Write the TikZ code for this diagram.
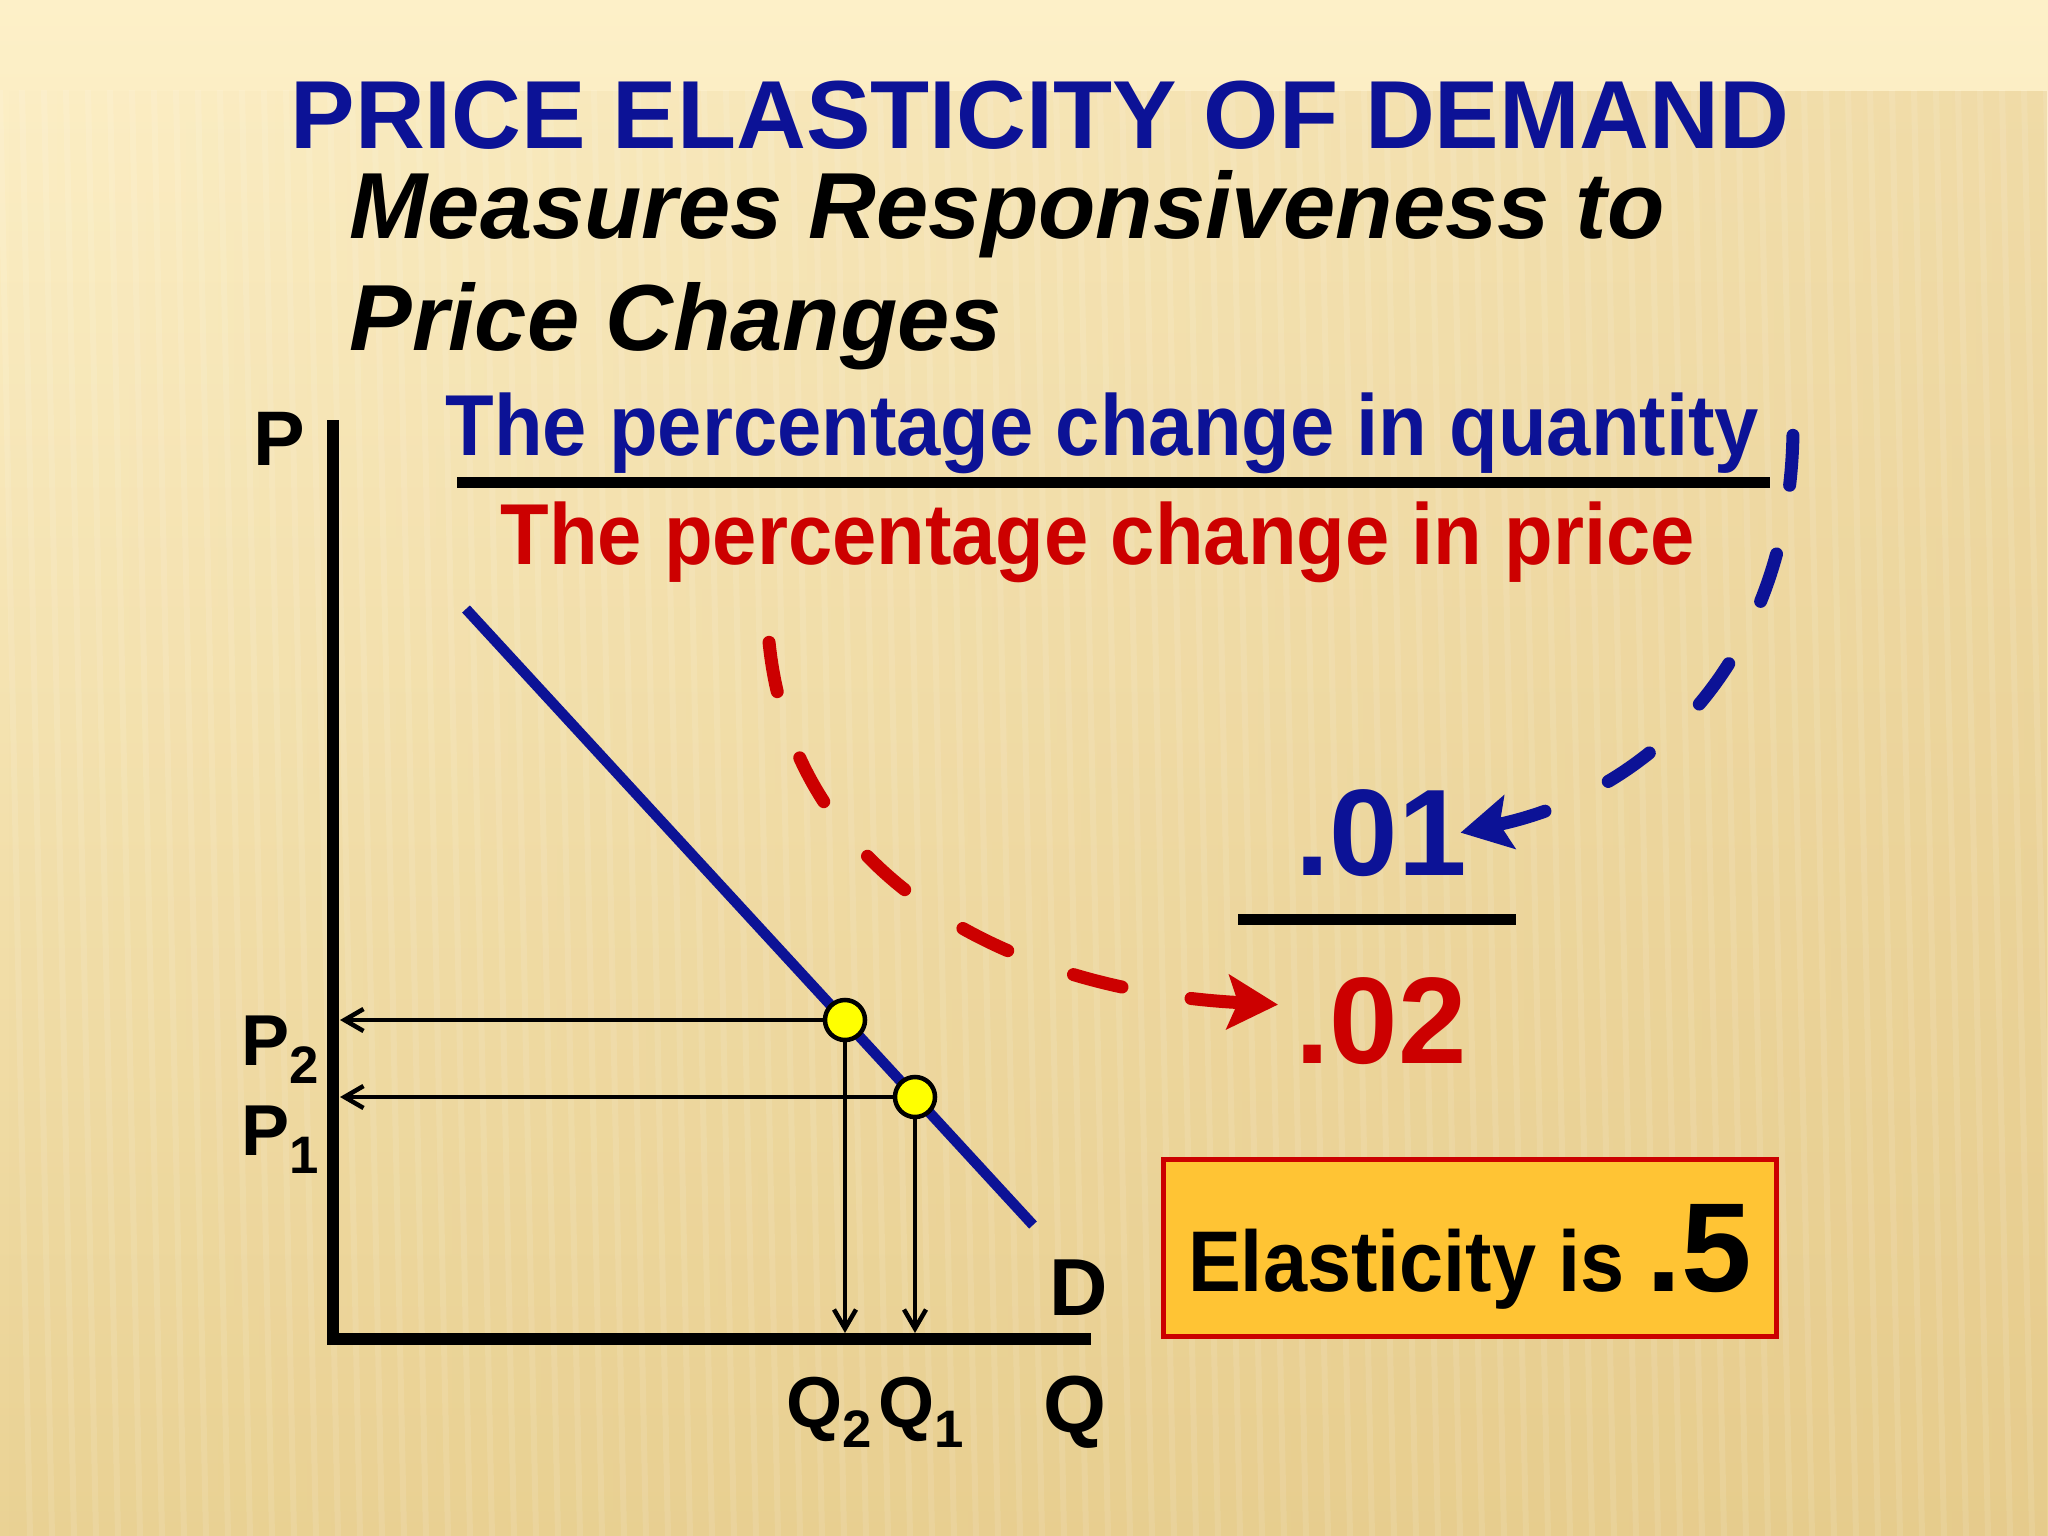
\documentclass[tikz,border=0pt]{standalone}
\usepackage{fontspec}
\setmainfont{Liberation Sans}
\newfontfamily\narrowsans[FakeStretch=0.92]{Liberation Sans}
\usetikzlibrary{arrows.meta,calc,fadings}
\definecolor{elBlue}{RGB}{12,18,150}
\definecolor{elRed}{RGB}{204,0,0}
\definecolor{elBox}{RGB}{255,196,52}
\definecolor{elDot}{RGB}{255,255,0}
\definecolor{bgCream}{RGB}{253,240,200}
\definecolor{bgMid}{RGB}{246,228,178}
\definecolor{bgSand}{RGB}{234,210,148}
\definecolor{bgTan}{RGB}{226,196,130}
\newcommand{\setsz}[1]{\fontsize{#1}{#1}\selectfont}

\begin{document}
\begin{tikzpicture}[x=0.01cm,y=-0.01cm,
    lbl/.style={anchor=base west,inner sep=0pt,font=\bfseries\setsz{22}},
    frac/.style={anchor=base west,inner sep=0pt,font=\narrowsans\bfseries\setsz{24.6}},
    bignum/.style={anchor=base west,inner sep=0pt,font=\bfseries\setsz{35}},
    axisline/.style={line width=1.2mm,line join=miter},
    guide/.style={line width=0.45mm,-{Straight Barb[length=1.9mm,width=2.2mm]}},
    dot/.style={circle,draw=black,fill=elDot,line width=0.45mm,minimum size=4mm,inner sep=0pt},
    flow/.style={line width=1.3mm,line cap=round,dash pattern=on 5mm off 7mm,{Stealth[length=5mm,width=5.4mm,inset=1mm]}-}]
    % Background
    \useasboundingbox (0,0) rectangle (2048,1536);
    \shade[top color=bgCream,middle color=bgMid,bottom color=bgSand] (0,0) rectangle (2048,1536);
    \fill[bgTan,path fading=west,fill opacity=0.45] (0,90) rectangle (2048,1536);
    \foreach \x in {0,22,...,2048}
        \draw[white,opacity=0.1,line width=0.6mm] (\x,90) -- (\x+30,1536);

    % Title and subtitle
    \node[anchor=base,inner sep=0pt,font=\bfseries\setsz{27.5},text=elBlue] (title) at (1040,148) {PRICE ELASTICITY OF DEMAND};
    \node[anchor=base west,inner sep=0pt,font=\bfseries\itshape\setsz{26.7}] (sub1) at (349,238) {Measures Responsiveness to};
    \node[anchor=base west,inner sep=0pt,font=\bfseries\itshape\setsz{26.7}] (sub2) at (349,350) {Price Changes};

    % Definition as a fraction
    \node[frac,text=elBlue] (num) at (445,455) {The percentage change in quantity};
    \node[frac,text=elRed] (den) at (500,564) {The percentage change in price};
    \draw[line width=1.1mm] (457,482) -- (1770,482);

    % Axes and demand curve
    \coordinate (O) at (333,1339);
    \draw[axisline] (333,420) -- (O) -- (1091,1339);
    \draw[line width=1.05mm,elBlue] (466,609) -- (1033,1225);
    \node[lbl] (lP) at (253,465) {P};
    \node[lbl,font=\bfseries\setsz{23}] (lD) at (1049,1315) {D};
    \node[lbl,font=\bfseries\setsz{23}] (lQ) at (1043,1432) {Q};

    % Price and quantity read-offs
    \coordinate (a) at (845,1020);
    \coordinate (b) at (915,1097);
    \draw[guide,shorten >=0.7mm] (a) -- (a -| O);
    \draw[guide,shorten >=0.7mm] (b) -- (b -| O);
    \draw[guide,shorten >=0.6mm] (a) -- (a |- O);
    \draw[guide,shorten >=0.6mm] (b) -- (b |- O);
    \node[dot] (pA) at (a) {};
    \node[dot] (pB) at (b) {};
    \node[lbl,font=\bfseries\setsz{20.5}] (lP2) at (241,1065) {P\raisebox{-1.8mm}{\setsz{15}2}};
    \node[lbl,font=\bfseries\setsz{20.5}] (lP1) at (241,1155) {P\raisebox{-1.8mm}{\setsz{15}1}};
    \node[lbl,font=\bfseries\setsz{20.5}] (lQ2) at (786,1427) {Q\raisebox{-2mm}{\setsz{15}2}};
    \node[lbl,font=\bfseries\setsz{20.5}] (lQ1) at (878,1427) {Q\raisebox{-2mm}{\setsz{15}1}};

    % Numbers
    \node[bignum,text=elBlue] (v01) at (1295,875) {.01};
    \node[bignum,text=elRed] (v02) at (1295,1063) {.02};
    \draw[line width=1.1mm] (1238,919) -- (1516,919);
    \coordinate (qtail) at (1793,432);
    \coordinate (ptail) at (768,630);
    \draw[flow,elBlue] ([xshift=-0.7mm]v01.east) .. controls (1660,790) and (1790,650) .. (qtail);
    \draw[flow,elRed] ([xshift=-1.7mm,yshift=1.6mm]v02.west) .. controls (1000,990) and (785,870) .. (ptail);

    % Result
    \node[draw=elRed,fill=elBox,line width=0.5mm,minimum width=6.12cm,minimum height=1.77cm,inner sep=0pt,text depth=0pt,font=\narrowsans\bfseries\setsz{24.5}] (elas) at (1470,1248) {Elasticity is {\normalfont\bfseries\setsz{36}.5}};
\end{tikzpicture}
\end{document}
